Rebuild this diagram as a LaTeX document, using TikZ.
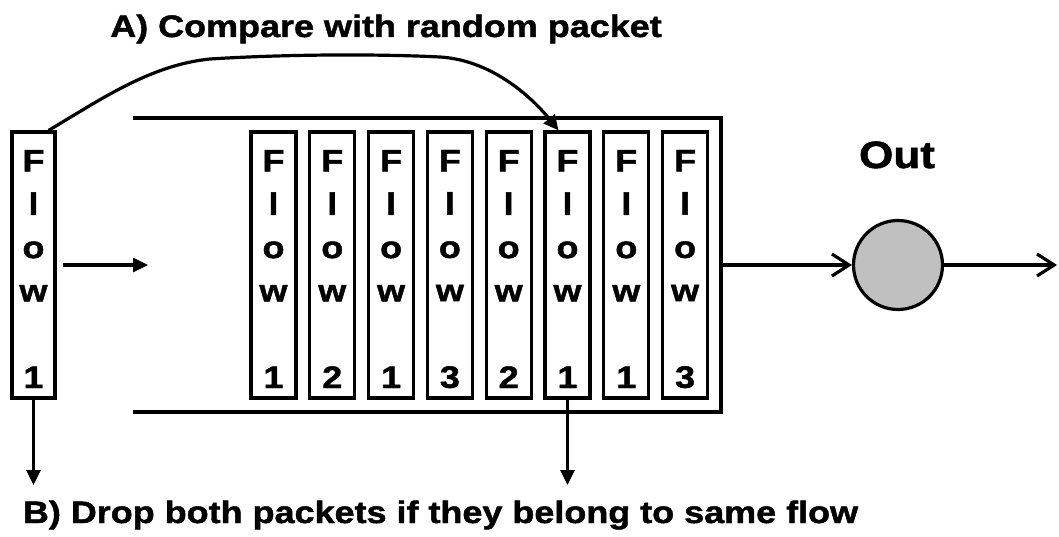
\documentclass[tikz,border=0pt]{standalone}
\usepackage{fontspec}
\setmainfont{Liberation Sans}
\newfontfamily\wfont[FakeStretch=1.16,FakeBold=1.5]{Liberation Sans}
\usetikzlibrary{arrows.meta}
\definecolor{srvgray}{RGB}{192,192,192}
\newcommand{\flowtxt}[1]{\rule{0pt}{29.5pt}F\\l\\o\\w\\[43.3pt]#1}
\begin{document}
\begin{tikzpicture}[x=1pt,y=-1pt,
  pkt/.style={draw, line width=3.2pt, minimum width=45pt, minimum height=266pt,
    inner sep=0pt, align=center,
    font=\wfont\bfseries\fontsize{31}{43.3}\selectfont},
  fillarrow/.style={-{Triangle[length=15pt,width=14pt]}, line width=3.2pt},
  openarrow/.style={-{Straight Barb[length=17pt,width=22pt]}, line width=3.2pt},
  lbl/.style={font=\wfont\bfseries\fontsize{31}{36}\selectfont, anchor=base, inner sep=0pt}]
\useasboundingbox (0,0) rectangle (1059,537);

% title and caption
\node[lbl] (ttl) at (386,37) {A) Compare with random packet};
\node[lbl] (btm) at (440.5,523) {B) Drop both packets if they belong to same flow};

% incoming packet
\node[pkt, minimum width=43pt] (lf) at (33.5,265) {\flowtxt{1}};

% queue
\draw[line width=3.2pt] (133,118) -- (721,118) -- (721,412) -- (133,412);
\coordinate (qin) at (148,265);
\coordinate (qout) at (721,265);

% packets in queue
\node[pkt] (p1) at (273.5,265) {\flowtxt{1}};
\node[pkt] (p2) at (332.3,265) {\flowtxt{2}};
\node[pkt] (p3) at (391.1,265) {\flowtxt{1}};
\node[pkt] (p4) at (449.9,265) {\flowtxt{3}};
\node[pkt] (p5) at (508.7,265) {\flowtxt{2}};
\node[pkt] (p6) at (567.5,265) {\flowtxt{1}};
\node[pkt] (p7) at (626.3,265) {\flowtxt{1}};
\node[pkt] (p8) at (685.1,265) {\flowtxt{3}};

% server
\node[circle, draw, line width=3.2pt, fill=srvgray, minimum size=89pt, inner sep=0pt] (srv) at (898,265) {};
\node[font=\wfont\bfseries\fontsize{38}{44}\selectfont, anchor=base, inner sep=0pt] (outl) at (897,168) {Out};
\coordinate (sink) at (1057,265);

% connectors
\draw[fillarrow, shorten <=6pt] (lf.east) -- (qin);
\draw[openarrow] (qout) -- (srv.west);
\draw[openarrow] (srv.east) -- (sink);

\coordinate (d1) at (33.5,485);
\coordinate (d2) at (567.5,485);
\draw[fillarrow] (lf.south) -- (d1);
\draw[fillarrow] (p6.south) -- (d2);

\draw[fillarrow] ([xshift=-8pt]lf.north east) .. controls (100,100) and (150,65) .. (210,59)
  .. controls (290,54) and (380,54) .. (440,57)
  .. controls (490,60) and (530,95) .. ([xshift=-9pt]p6.north);
\end{tikzpicture}
\end{document}
